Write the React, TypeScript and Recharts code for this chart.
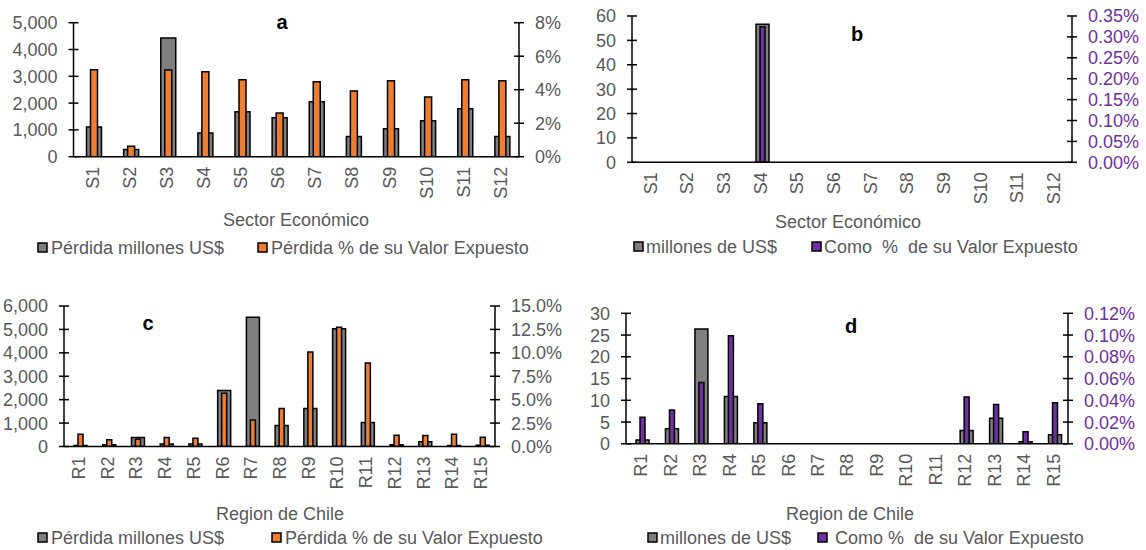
import React from 'react';
import { ComposedChart, Bar, XAxis, YAxis } from 'recharts';

const sectors = ['S1', 'S2', 'S3', 'S4', 'S5', 'S6', 'S7', 'S8', 'S9', 'S10', 'S11', 'S12'];
const sectorLossMUSD = [1110, 270, 4430, 880, 1680, 1455, 2050, 750, 1045, 1340, 1790, 750];
const sectorLossPct = [5.19, 0.62, 5.17, 5.07, 4.6, 2.61, 4.48, 3.92, 4.54, 3.56, 4.6, 4.54];

const sectorB_MUSD = [0, 0, 0, 56.6, 0, 0, 0, 0, 0, 0, 0, 0];
const sectorB_Pct = [0, 0, 0, 0.324, 0, 0, 0, 0, 0, 0, 0, 0];

const regions = ['R1', 'R2', 'R3', 'R4', 'R5', 'R6', 'R7', 'R8', 'R9', 'R10', 'R11', 'R12', 'R13', 'R14', 'R15'];
const regionLossMUSD = [40, 80, 380, 110, 110, 2390, 5520, 900, 1620, 5030, 1020, 80, 200, 40, 55];
const regionLossPct = [1.32, 0.71, 0.78, 0.96, 0.89, 5.69, 2.84, 4.05, 10.1, 12.73, 8.92, 1.21, 1.17, 1.32, 1.0];

const regionD_MUSD = [0.9, 3.45, 26.4, 10.9, 4.83, 0, 0, 0, 0, 0, 0, 3.07, 5.9, 0.46, 2.07];
const regionD_Pct = [0.0245, 0.031, 0.0564, 0.0994, 0.0368, 0, 0, 0, 0, 0, 0, 0.043, 0.0362, 0.011, 0.0377];

const ticksA_left = [0, 1000, 2000, 3000, 4000, 5000];
const ticksA_right = [0, 2, 4, 6, 8];
const ticksB_left = [0, 10, 20, 30, 40, 50, 60];
const ticksB_right = [0, 0.05, 0.1, 0.15, 0.2, 0.25, 0.3, 0.35];
const ticksC_left = [0, 1000, 2000, 3000, 4000, 5000, 6000];
const ticksC_right = [0, 2.5, 5, 7.5, 10, 12.5, 15];
const ticksD_left = [0, 5, 10, 15, 20, 25, 30];
const ticksD_right = [0, 0.02, 0.04, 0.06, 0.08, 0.1, 0.12];

const legendA = ['Pérdida millones US$', 'Pérdida % de su Valor Expuesto'];
const legendB = ['millones de US$', 'Como  %  de su Valor Expuesto'];
const legendC = ['Pérdida millones US$', 'Pérdida % de su Valor Expuesto'];
const legendD = ['millones de US$', ' Como %  de su Valor Expuesto'];

const FONT = '"Liberation Sans", Arial, sans-serif';
const GRAY_TXT = '#595959';
const PURPLE = '#7030A0';
const ORANGE = '#ED7D31';
const GRAYBAR = '#7F7F7F';
const FS = 18;
const TM = 16;

const fmtThousands = (v: number) => v.toLocaleString('en-US');
const fmtInt = (v: number) => String(v);
const fmtPct0 = (v: number) => `${v.toFixed(0)}%`;
const fmtPct1 = (v: number) => `${v.toFixed(1)}%`;
const fmtPct2 = (v: number) => `${v.toFixed(2)}%`;

const YTick = (p: any) => {
  const { x, y, payload, fmt, side, color } = p;
  const ax = side === 'left' ? x + TM : x - TM;
  return (
    <g>
      <line x1={ax - 5} x2={ax + 5} y1={y} y2={y} stroke="#000" strokeWidth={1.5} />
      <text x={x} y={y} dy="0.36em" textAnchor={side === 'left' ? 'end' : 'start'} fill={color} fontSize={FS} fontFamily={FONT}>
        {fmt(payload.value)}
      </text>
    </g>
  );
};

const XTick = (p: any) => {
  const { x, y, payload } = p;
  return (
    <text x={x} y={y} dy="0.36em" transform={`rotate(-90, ${x}, ${y})`} textAnchor="end" fill={GRAY_TXT} fontSize={FS} fontFamily={FONT}>
      {payload.value}
    </text>
  );
};

type PanelProps = {
  cx: number; cy: number; W: number; H: number;
  plotLeft: number; plotRight: number; plotTop: number; plotBottom: number;
  cats: string[]; v1: number[]; v2: number[];
  ticksL: number[]; ticksR: number[];
  fmtL: (v: number) => string; fmtR: (v: number) => string;
  colorR: string; fill2: string; gW: number; iW: number;
};

function Panel(props: PanelProps) {
  const { cx, cy, W, H, plotLeft, plotRight, plotTop, plotBottom, cats, v1, v2, ticksL, ticksR, fmtL, fmtR, colorR, fill2, gW, iW } = props;
  const data = cats.map((c, i) => ({ cat: c, v1: v1[i], v2: v2[i] }));
  const rightW = 60;
  const margin = { top: plotTop - cy, left: 0, right: cx + W - plotRight - rightW, bottom: 0 };
  const xH = cy + H - plotBottom;
  const axisLine = { stroke: '#000', strokeWidth: 1.5 };
  return (
    <div style={{ position: 'absolute', left: cx, top: cy, width: W, height: H }}>
      <ComposedChart width={W} height={H} data={data} margin={margin} barGap={-(gW + iW) / 2} barCategoryGap={0}>
        <XAxis dataKey="cat" height={xH} tickSize={0} tickMargin={10} axisLine={axisLine} tickLine={false} tick={<XTick />} interval={0} />
        <YAxis yAxisId="l" width={plotLeft - cx} domain={[ticksL[0], ticksL[ticksL.length - 1]]} ticks={ticksL} tickSize={0} tickMargin={TM} tickLine={false} axisLine={axisLine} tick={<YTick fmt={fmtL} side="left" color={GRAY_TXT} />} interval={0} allowDataOverflow />
        <YAxis yAxisId="r" orientation="right" width={rightW} domain={[ticksR[0], ticksR[ticksR.length - 1]]} ticks={ticksR} tickSize={0} tickMargin={TM} tickLine={false} axisLine={axisLine} tick={<YTick fmt={fmtR} side="right" color={colorR} />} interval={0} allowDataOverflow />
        <Bar yAxisId="l" dataKey="v1" barSize={gW} fill={GRAYBAR} stroke="#000" strokeWidth={1.5} isAnimationActive={false} />
        <Bar yAxisId="r" dataKey="v2" barSize={iW} fill={fill2} stroke="#000" strokeWidth={1.5} isAnimationActive={false} />
      </ComposedChart>
    </div>
  );
}

function LegendItems({ y, items }: { y: number; items: { x: number; tx: number; color: string; label: string }[] }) {
  return (
    <g>
      {items.map((it, i) => (
        <g key={i}>
          <rect x={it.x} y={y - 5} width={9} height={9} fill={it.color} stroke="#000" strokeWidth={1.5} />
          <text x={it.tx} y={y} dy="0.36em" fill={GRAY_TXT} fontSize={FS} fontFamily={FONT} style={{ whiteSpace: 'pre' }}>{it.label}</text>
        </g>
      ))}
    </g>
  );
}

export default function App() {
  return (
    <div style={{ position: 'absolute', left: 0, top: 0, width: 1146, height: 550, background: '#fff', overflow: 'hidden' }}>
      <Panel cx={0} cy={0} W={580} H={275} plotLeft={73.5} plotRight={519} plotTop={22.7} plotBottom={156.7}
        cats={sectors} v1={sectorLossMUSD} v2={sectorLossPct} ticksL={ticksA_left} ticksR={ticksA_right}
        fmtL={fmtThousands} fmtR={fmtPct0} colorR={GRAY_TXT} fill2={ORANGE} gW={15} iW={7} />
      <Panel cx={580} cy={0} W={566} H={275} plotLeft={632} plotRight={1072} plotTop={16} plotBottom={162.3}
        cats={sectors} v1={sectorB_MUSD} v2={sectorB_Pct} ticksL={ticksB_left} ticksR={ticksB_right}
        fmtL={fmtInt} fmtR={fmtPct2} colorR={PURPLE} fill2={PURPLE} gW={13} iW={5} />
      <Panel cx={0} cy={280} W={580} H={270} plotLeft={64} plotRight={495} plotTop={306} plotBottom={446.5}
        cats={regions} v1={regionLossMUSD} v2={regionLossPct} ticksL={ticksC_left} ticksR={ticksC_right}
        fmtL={fmtThousands} fmtR={fmtPct1} colorR={GRAY_TXT} fill2={ORANGE} gW={13} iW={5} />
      <Panel cx={580} cy={280} W={566} H={270} plotLeft={626} plotRight={1068} plotTop={313.3} plotBottom={443.8}
        cats={regions} v1={regionD_MUSD} v2={regionD_Pct} ticksL={ticksD_left} ticksR={ticksD_right}
        fmtL={fmtInt} fmtR={fmtPct2} colorR={PURPLE} fill2={PURPLE} gW={13} iW={5} />
      <svg width={1146} height={550} style={{ position: 'absolute', left: 0, top: 0, pointerEvents: 'none' }}>
        <text x={282} y={22} dy="0.36em" textAnchor="middle" fontSize={20} fontWeight="bold" fontFamily={FONT} fill="#000">a</text>
        <text x={857} y={34} dy="0.36em" textAnchor="middle" fontSize={20} fontWeight="bold" fontFamily={FONT} fill="#000">b</text>
        <text x={148} y={323} dy="0.36em" textAnchor="middle" fontSize={20} fontWeight="bold" fontFamily={FONT} fill="#000">c</text>
        <text x={851} y={326} dy="0.36em" textAnchor="middle" fontSize={20} fontWeight="bold" fontFamily={FONT} fill="#000">d</text>
        <text x={296} y={220} dy="0.36em" textAnchor="middle" fontSize={FS} fontFamily={FONT} fill={GRAY_TXT}>Sector Económico</text>
        <text x={848} y={222} dy="0.36em" textAnchor="middle" fontSize={FS} fontFamily={FONT} fill={GRAY_TXT}>Sector Económico</text>
        <text x={280} y={514} dy="0.36em" textAnchor="middle" fontSize={FS} fontFamily={FONT} fill={GRAY_TXT}>Region de Chile</text>
        <text x={850} y={514} dy="0.36em" textAnchor="middle" fontSize={FS} fontFamily={FONT} fill={GRAY_TXT}>Region de Chile</text>
        <LegendItems y={248} items={[
          { x: 38, tx: 51, color: GRAYBAR, label: legendA[0] },
          { x: 258, tx: 271, color: ORANGE, label: legendA[1] },
        ]} />
        <LegendItems y={247} items={[
          { x: 634, tx: 646, color: GRAYBAR, label: legendB[0] },
          { x: 812, tx: 824, color: PURPLE, label: legendB[1] },
        ]} />
        <LegendItems y={538} items={[
          { x: 38, tx: 51, color: GRAYBAR, label: legendC[0] },
          { x: 272, tx: 285, color: ORANGE, label: legendC[1] },
        ]} />
        <LegendItems y={538} items={[
          { x: 648, tx: 660, color: GRAYBAR, label: legendD[0] },
          { x: 818, tx: 830, color: PURPLE, label: legendD[1] },
        ]} />
      </svg>
    </div>
  );
}
